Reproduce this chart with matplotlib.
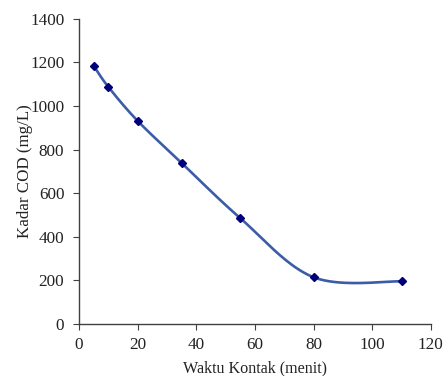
import numpy as np
import matplotlib
matplotlib.use("Agg")
import matplotlib.pyplot as plt

# data
waktu = [5, 10, 20, 35, 55, 80, 110]
kadar_cod = [1185, 1088, 932, 739, 486, 215, 196]

plt.rcParams['font.family'] = ['Liberation Serif', 'DejaVu Serif']


def excel_smooth(x, y, n=40):
    # bezier smoothing like the spreadsheet "smoothed line"
    x = np.asarray(x, float)
    y = np.asarray(y, float)
    xs, ys = [], []
    k = len(x)
    for i in range(k - 1):
        p0 = np.array([x[i], y[i]])
        p3 = np.array([x[i + 1], y[i + 1]])
        prev = np.array([x[i - 1], y[i - 1]]) if i > 0 else p0
        nxt = np.array([x[i + 2], y[i + 2]]) if i + 2 < k else p3
        p1 = p0 + (p3 - prev) / 6
        p2 = p3 - (nxt - p0) / 6
        t = np.linspace(0, 1, n)[:, None]
        pts = ((1 - t) ** 3) * p0 + 3 * ((1 - t) ** 2) * t * p1 + 3 * (1 - t) * t ** 2 * p2 + t ** 3 * p3
        xs.extend(pts[:, 0])
        ys.extend(pts[:, 1])
    return xs, ys


fig, ax = plt.subplots(figsize=(4.46, 3.76), dpi=100)
fig.subplots_adjust(left=0.177, right=0.966, top=0.95, bottom=0.138)

sx, sy = excel_smooth(waktu, kadar_cod)
ax.plot(sx, sy, color="#3b5ca6", lw=1.9, zorder=2)
ax.plot(waktu, kadar_cod, linestyle="none", marker="D", markersize=4.5,
        color="#00007a", zorder=3)

ax.set_xlim(0, 120)
ax.set_ylim(0, 1400)
ax.set_xticks(range(0, 121, 20))
ax.set_yticks(range(0, 1401, 200))
ax.spines["top"].set_visible(False)
ax.spines["right"].set_visible(False)
for s in ["left", "bottom"]:
    ax.spines[s].set_color("#404040")
    ax.spines[s].set_linewidth(1.0)
ax.tick_params(direction="out", length=4.5, color="#404040", labelsize=12.3,
               labelcolor="#222222")
ax.tick_params(axis="y", pad=6)
ax.tick_params(axis="x", pad=5)

ax.set_xlabel("Waktu Kontak (menit)", fontsize=11.6, color="#222222", labelpad=5)
ax.set_ylabel("Kadar COD (mg/L)", fontsize=12.2, color="#222222", labelpad=-2)

plt.savefig("out.png", dpi=100)
